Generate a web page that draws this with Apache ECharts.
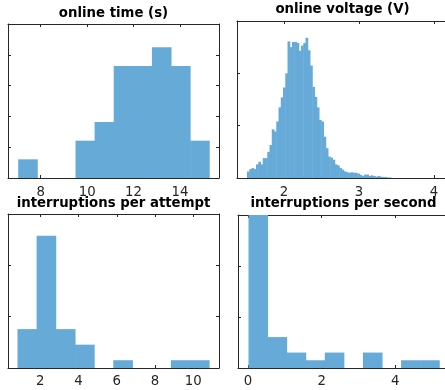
<!DOCTYPE html>
<html>
<head>
<meta charset="utf-8">
<script src="https://cdn.jsdelivr.net/npm/echarts@6/dist/echarts.min.js"></script>
<style>
  html, body { margin: 0; padding: 0; background: #fff; overflow: hidden; }
  #chart { width: 445px; height: 390px; }
</style>
</head>
<body>
<div id="chart"></div>
<script>
// Online time (s): bin edges and probability per bin
const timeEdges = [7.04, 7.863, 8.686, 9.509, 10.332, 11.155, 11.978, 12.801, 13.624, 14.447, 15.27];
const timeProb = [0.0303, 0, 0, 0.0606, 0.0909, 0.1818, 0.1818, 0.2121, 0.1818, 0.0606];
const timeTicks = [8, 10, 12, 14];

// Online voltage (V): uniform bins starting at voltStart, each voltWidth wide
const voltStart = 1.51;
const voltWidth = 0.03;
const voltProb = [
  0.0025, 0.0034, 0.0038, 0.0034, 0.0052, 0.0062, 0.0052, 0.0076, 0.0076, 0.0100,
  0.0126, 0.0186, 0.0178, 0.0216, 0.0270, 0.0308, 0.0346, 0.0400,
  0.0522, 0.0500, 0.0520, 0.0520, 0.0516, 0.0486, 0.0506, 0.0516, 0.0536, 0.0488,
  0.0430, 0.0348, 0.0310, 0.0270, 0.0222, 0.0216, 0.0158, 0.0114, 0.0082, 0.0078,
  0.0070, 0.0052, 0.0048, 0.0038, 0.0032, 0.0025, 0.0022, 0.0020, 0.0022, 0.0020,
  0.0020, 0.0017, 0.0012, 0.0008, 0.0013, 0.0013, 0.0008, 0.0010, 0.0008, 0.0005,
  0.0008, 0.0005, 0.0004, 0.0004, 0.0002, 0.0002
];
const voltTicks = [2, 3, 4];

// Interruptions per attempt
const attemptEdges = [0.82, 1.82, 2.82, 3.83, 4.83, 5.83, 6.83, 7.83, 8.84, 9.84, 10.84];
const attemptProb = [0.1515, 0.5152, 0.1515, 0.0909, 0, 0.0303, 0, 0, 0.0303, 0.0303];
const attemptTicks = [2, 4, 6, 8, 10];

// Interruptions per second
const rateEdges = [0.02, 0.538, 1.056, 1.574, 2.092, 2.61, 3.128, 3.646, 4.164, 4.682, 5.2];
const rateProb = [0.6061, 0.1212, 0.0606, 0.0303, 0.0606, 0, 0.0606, 0, 0.0303, 0.0303];
const rateTicks = [0, 2, 4];

const titles = ['online time (s)', 'online voltage (V)', 'interruptions per attempt', 'interruptions per second'];

const BAR = '#66aad8';
const INK = '#262626';
const FONT = 'DejaVu Sans';

function binsFromEdges(edges, probs) {
  return probs.map((p, i) => [edges[i], edges[i + 1], p]);
}
function binsUniform(start, width, probs) {
  return probs.map((p, i) => [start + i * width, start + (i + 1) * width, p]);
}

const panels = [
  { grid: { left: 8, top: 24, width: 211, height: 154 }, xMin: 6.59, xMax: 15.68, yMax: 0.25, yStep: 0.05,
    ticks: timeTicks, data: binsFromEdges(timeEdges, timeProb), titleX: 113.5, titleTop: 7.5, labelMargin: 8 },
  { grid: { left: 237, top: 21, width: 211, height: 157 }, xMin: 1.373, xMax: 4.187, yMax: 0.06, yStep: 0.02,
    ticks: voltTicks, data: binsUniform(voltStart, voltWidth, voltProb), titleX: 342.5, titleTop: 3.5, labelMargin: 8 },
  { grid: { left: 8, top: 214, width: 211, height: 154 }, xMin: 0.311, xMax: 11.344, yMax: 0.6, yStep: 0.2,
    ticks: attemptTicks, data: binsFromEdges(attemptEdges, attemptProb), titleX: 113.5, titleTop: 197.5, labelMargin: 7 },
  { grid: { left: 238, top: 215, width: 211, height: 153 }, xMin: -0.272, xMax: 5.458, yMax: 0.6, yStep: 0.2,
    ticks: rateTicks, data: binsFromEdges(rateEdges, rateProb), titleX: 343.5, titleTop: 197, labelMargin: 7 }
];

// Each bin is a filled rectangle from its left edge to its right edge,
// widened by a hair so neighbouring bins join without seams.
function renderBin(params, api) {
  const x0 = api.value(0), x1 = api.value(1), y = api.value(2);
  if (!(y > 0)) return null;
  const a = api.coord([x0, y]);
  const b = api.coord([x1, 0]);
  return {
    type: 'rect',
    shape: { x: a[0] - 0.25, y: a[1], width: b[0] - a[0] + 0.5, height: b[1] - a[1] },
    style: { fill: BAR }
  };
}

const option = {
  backgroundColor: '#fff',
  animation: false,
  title: [],
  grid: [],
  xAxis: [],
  yAxis: [],
  series: []
};

panels.forEach((p, i) => {
  option.title.push({
    text: titles[i],
    left: p.titleX,
    top: p.titleTop,
    textAlign: 'center',
    padding: 0,
    textStyle: { fontFamily: FONT, fontSize: 13.3, fontWeight: 'bold', color: '#000' }
  });
  option.grid.push(Object.assign({ containLabel: false, outerBoundsMode: 'none' }, p.grid));

  const line = { show: true, onZero: false, lineStyle: { color: INK, width: 1 } };
  const tick = { show: true, inside: true, length: 3, lineStyle: { color: INK, width: 1 } };

  ['bottom', 'top'].forEach(pos => {
    option.xAxis.push({
      type: 'value', gridIndex: i, position: pos, min: p.xMin, max: p.xMax,
      axisLine: line,
      axisTick: Object.assign({ customValues: p.ticks }, tick),
      axisLabel: {
        show: pos === 'bottom', customValues: p.ticks, margin: p.labelMargin,
        fontFamily: FONT, fontSize: 13.3, color: INK
      },
      splitLine: { show: false }
    });
  });
  ['left', 'right'].forEach(pos => {
    option.yAxis.push({
      type: 'value', gridIndex: i, position: pos, min: 0, max: p.yMax, interval: p.yStep,
      axisLine: line,
      axisTick: tick,
      axisLabel: { show: false },
      splitLine: { show: false }
    });
  });

  option.series.push({
    type: 'custom',
    xAxisIndex: i * 2,
    yAxisIndex: i * 2,
    clip: true,
    renderItem: renderBin,
    encode: { x: [0, 1], y: 2 },
    data: p.data
  });
});

const chart = echarts.init(document.getElementById('chart'), null, { renderer: 'canvas' });
chart.setOption(option);
</script>
</body>
</html>
